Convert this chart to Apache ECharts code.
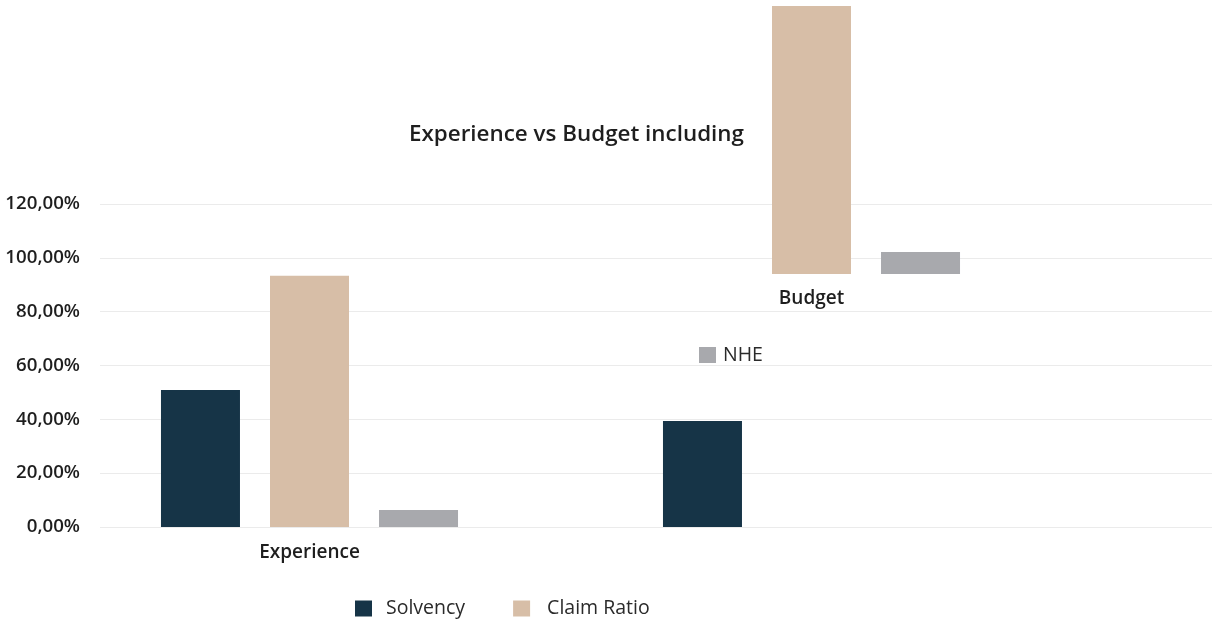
<!DOCTYPE html>
<html><head><meta charset="utf-8">
<script src="https://cdn.jsdelivr.net/npm/echarts@6/dist/echarts.min.js"></script>
<style>html,body{margin:0;padding:0;background:#fff}#c{width:1212px;height:619px}</style>
</head><body><div id="c"></div>
<script>
const categories = ['Experience', 'Budget'];
const yTicks = [0, 20, 40, 60, 80, 100, 120];
const solvency = [50.9, 39.4];
const claimRatio = [93.3, 99.6];
const nhe = [6.3, 8.2];

const FONT = 'Open Sans';
const colors = {s: '#163447', c: '#d7bea7', n: '#a8a9ad'};
const fmt = v => v.toFixed(2).replace('.', ',') + '%';

const chart = echarts.init(document.getElementById('c'));
const barCommon = {type: 'bar', barWidth: 79, barGap: '38%'};
// upper (displaced) grid: bottom edge at y=274, same px-per-unit as main grid (323px per 120)
const upperMax = 120 * 274 / 323;
const grids = [
  {left: 100, right: 0, top: 204, bottom: 92},
  {left: 58.5, width: 1004, top: 204, bottom: 92},
  {left: 58.5, width: 1004, top: 0, height: 274}
];
const labelFont = {fontFamily: FONT, fontSize: 19, fontWeight: 600, color: '#1e1e1e'};
chart.setOption({
  animation: false,
  title: {text: 'Experience vs Budget including', left: 409, top: 124, padding: 0,
    textStyle: {fontFamily: FONT, fontSize: 22.4, fontWeight: 600, color: '#1e1e1e'}},
  legend: [
    {data: [{name: 'Solvency', textStyle: {padding: [0, 0, 0, 9]}},
            {name: 'Claim Ratio', textStyle: {padding: [0, 0, 0, 12]}}],
     left: 355, top: 598.5, padding: 0, icon: 'rect', itemWidth: 17, itemHeight: 16, itemGap: 48,
     textStyle: {fontFamily: FONT, fontSize: 19.5, color: '#2a2a2a'}},
    {data: [{name: 'NHE', textStyle: {padding: [0, 0, 0, 2]}}], left: 699, top: 345, padding: 0,
     icon: 'rect', itemWidth: 17, itemHeight: 16,
     textStyle: {fontFamily: FONT, fontSize: 19.5, color: '#2a2a2a'}}
  ],
  grid: grids,
  xAxis: [
    {gridIndex: 0, type: 'value', show: false},
    {gridIndex: 1, type: 'category', data: categories, axisLine: {show: false}, axisTick: {show: false},
     axisLabel: Object.assign({margin: 16, formatter: (v, i) => i === 0 ? v : ''}, labelFont)},
    {gridIndex: 2, type: 'category', data: categories, axisLine: {show: false}, axisTick: {show: false},
     axisLabel: Object.assign({margin: 15, formatter: (v, i) => i === 1 ? v : ''}, labelFont)}
  ],
  yAxis: [
    {gridIndex: 0, type: 'value', min: yTicks[0], max: yTicks[yTicks.length - 1], interval: 20,
     axisLine: {show: false}, axisTick: {show: false},
     splitLine: {lineStyle: {color: '#ebebeb', width: 1}},
     axisLabel: Object.assign({margin: 20, formatter: fmt}, labelFont, {fontSize: 18.7})},
    {gridIndex: 1, type: 'value', min: 0, max: 120, show: false},
    {gridIndex: 2, type: 'value', min: 0, max: upperMax, show: false}
  ],
  series: [
    Object.assign({name: 'Solvency', xAxisIndex: 1, yAxisIndex: 1, data: solvency, itemStyle: {color: colors.s}}, barCommon),
    Object.assign({name: 'Claim Ratio', xAxisIndex: 1, yAxisIndex: 1, data: [claimRatio[0], null], itemStyle: {color: colors.c}}, barCommon),
    Object.assign({name: 'NHE', xAxisIndex: 1, yAxisIndex: 1, data: [nhe[0], null], itemStyle: {color: colors.n}}, barCommon),
    Object.assign({name: 'Solvency', xAxisIndex: 2, yAxisIndex: 2, data: [null, null], itemStyle: {color: colors.s}}, barCommon),
    Object.assign({name: 'Claim Ratio', xAxisIndex: 2, yAxisIndex: 2, data: [null, claimRatio[1]], itemStyle: {color: colors.c}}, barCommon),
    Object.assign({name: 'NHE', xAxisIndex: 2, yAxisIndex: 2, data: [null, nhe[1]], itemStyle: {color: colors.n}}, barCommon)
  ]
});
</script></body></html>
